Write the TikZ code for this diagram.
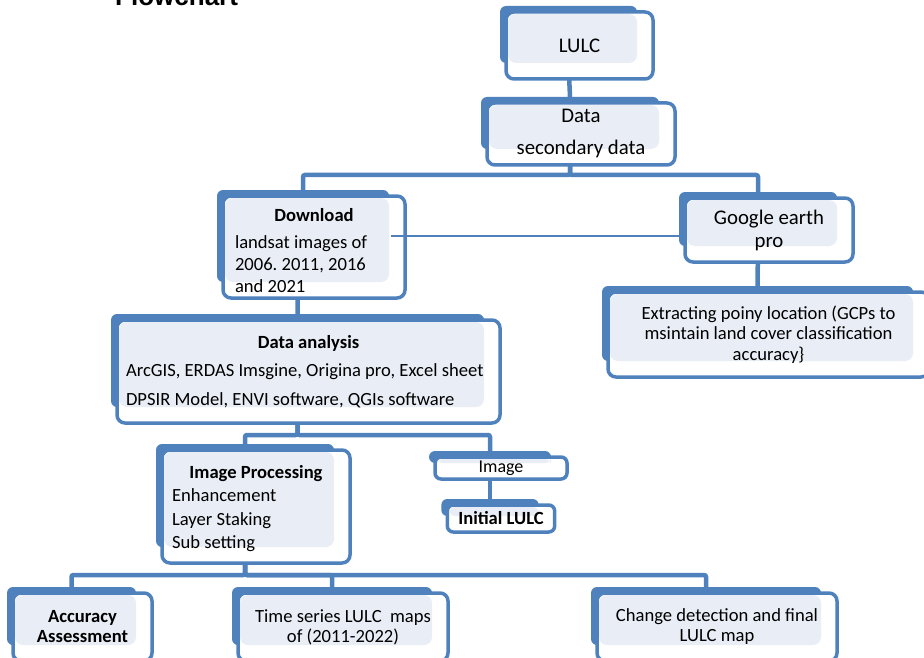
\documentclass[tikz,border=0pt]{standalone}
\usepackage{fontspec}
\setmainfont{Carlito}
\newfontfamily\ttlfont{Liberation Sans}
\usetikzlibrary{calc,backgrounds}
\definecolor{lblue}{RGB}{79,129,189}
\definecolor{lfill}{RGB}{233,238,246}
\newcommand{\fz}[2]{\fontsize{#1pt}{#2pt}\selectfont}
\frenchspacing
\tikzset{box/.style={draw=lblue,line width=3.5pt,fill=white,rounded corners=8pt,inner xsep=11pt,inner ysep=0pt,outer sep=0pt,text=black,
  path picture={\fill[lfill] ($(path picture bounding box.north west)+(2,2)$) rectangle ($(path picture bounding box.south east)+(-16,-16)$);}},
  back/.style={fill=lblue,rounded corners=6pt},link/.style={draw=lblue,line width=4.5pt,rounded corners=2pt},thinlink/.style={draw=lblue,line width=2pt}}

\begin{document}
\begin{tikzpicture}[x=1pt,y=-1pt]
\useasboundingbox (0,0) rectangle (924,658);
\node[font=\ttlfont\bfseries\fz{26}{30},anchor=base west,inner sep=0pt] (ttl) at (115,6) {Flowchart};
% boxes
\node[box,minimum width=147pt,minimum height=67pt,font=\fz{20.8}{25}] (lulc) at (579.5,45.5) {LULC};
\node[box,minimum width=188pt,minimum height=62pt,align=center,font=\fz{20.8}{32}] (data) at (581,134) {Data\\secondary data};
\node[box,minimum width=182pt,minimum height=102pt,text width=158pt,inner xsep=12pt,align=flush left,font=\fz{18.6}{22}] (dl) at (314,247) {\centering\rule{0pt}{21pt}\textbf{Download}\\[5pt]\raggedright landsat images of\\2006. 2011, 2016\\and 2021};
\node[box,minimum width=168pt,minimum height=64pt,align=center,font=\fz{20.8}{23}] (ge) at (769,230) {Google earth\\pro};
\node[box,minimum width=321pt,minimum height=85pt,align=center,font=\fz{18.6}{20.5}] (ex) at (768.5,334.5) {Extracting poiny location (GCPs to\\msintain land cover classification\\accuracy\}};
\node[box,minimum width=383pt,minimum height=103pt,text width=365pt,inner xsep=9pt,align=flush left,font=\fz{18.6}{28.5}] (da) at (308.5,371.5) {\centering\textbf{Data analysis}\\\raggedright ArcGIS, ERDAS Imsgine, Origina pro, Excel sheet\\DPSIR Model, ENVI software, QGIs software};
\node[box,minimum width=188pt,minimum height=113pt,text width=168pt,inner xsep=10pt,align=flush left,font=\fz{18.6}{23.5}] (ip) at (256,506.5) {\centering\rule{0pt}{17pt}\textbf{Image Processing}\\\raggedright Enhancement\\Layer Staking\\Sub setting};
\node[box,minimum width=132pt,minimum height=22pt,rounded corners=6pt,font=\fz{18}{20}] (img) at (501,468) {Image};
\node[box,minimum width=104pt,minimum height=27pt,rounded corners=6pt,font=\fz{18.6}{20}\bfseries] (ini) at (501,518.5) {Initial LULC};
\node[box,minimum width=139pt,minimum height=68pt,align=center,font=\fz{18.6}{20}\bfseries] (acc) at (82.5,627) {Accuracy\\Assessment};
\node[box,minimum width=210pt,minimum height=68pt,align=center,font=\fz{18.6}{20}] (ts) at (343,627) {Time series LULC~ maps\\of (2011-2022)};
\node[box,minimum width=240pt,minimum height=68pt,align=center,font=\fz{18.6}{20}] (cd) at (717,627) {Change detection and final\\LULC map};
\coordinate (dlr) at ($(dl.east)+(-14,-11)$);
\draw[thinlink] (dlr) -- (dlr -| ge.west);
% back plates and tree lines
\begin{scope}[on background layer]
\foreach \n in {lulc,data,dl,ge,ex,da,ip,img,ini,acc,ts,cd}{
  \fill[back] ($(\n.north west)+(-6,-6)$) rectangle ($(\n.south east)+(-16,-16)$);
  \coordinate (\n-t) at ($(\n.north)+(-11,-6)$);
  \coordinate (\n-b) at ($(\n.south)+(-11,-16)$);}
\draw[link] (lulc-b) -- (data-t);
\draw[link] (data-b) -- ++(0,26) -| (dl-t);\draw[link] (data-b) -- ++(0,26) -| (ge-t);
\draw[link] (ge-b) -- (ex-t);
\draw[link] (dl-b) -- ++(0,14) -| (da-t);
\draw[link] (da-b) -- ++(0,28) -| (ip-t);\draw[link] (da-b) -- ++(0,28) -| (img-t);
\draw[link] (img-b) -- (ini-t);
\draw[link] (ip-b) -- ++(0,28) -| (acc-t);\draw[link] (ip-b) -- ++(0,28) -| (ts-t);\draw[link] (ip-b) -- ++(0,28) -| (cd-t);
\end{scope}
\end{tikzpicture}
\end{document}
